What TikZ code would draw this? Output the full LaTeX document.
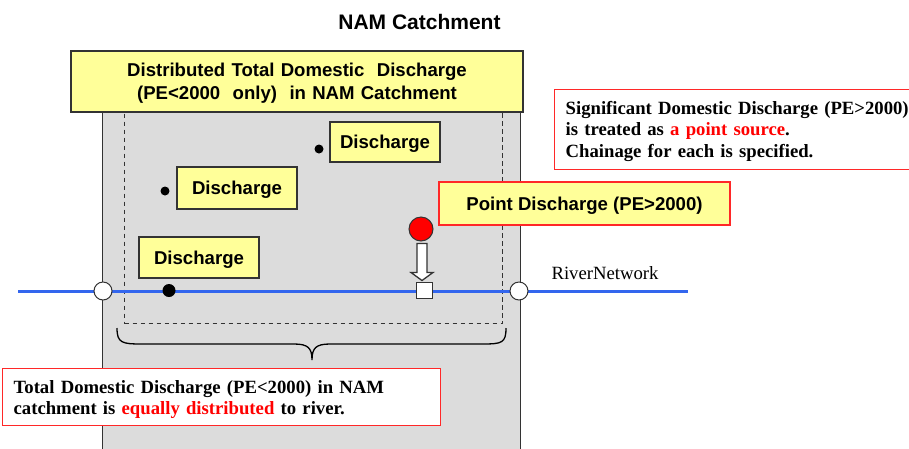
\documentclass[tikz,border=0pt]{standalone}
\usepackage{fontspec}
\setmainfont{Liberation Serif}
\newfontfamily\arialfont{Liberation Sans}
\usetikzlibrary{calc}
\definecolor{catgray}{HTML}{DCDCDC}
\definecolor{noteyellow}{HTML}{FFFF99}
\definecolor{riverblue}{HTML}{3366EE}
\definecolor{framered}{HTML}{FF2828}
\definecolor{edgegray}{HTML}{333333}
\begin{document}
\begin{tikzpicture}[x=1pt,y=-1pt,
  catchment/.style={fill=catgray,draw=edgegray,line width=1.4pt,inner sep=0pt},
  zone/.style={draw=edgegray,dashed,dash pattern=on 4.7pt off 3.3pt,line width=1.2pt,inner sep=0pt},
  yellowbox/.style={fill=noteyellow,draw=edgegray,line width=1.3pt,inner sep=0pt,
    font=\arialfont\bfseries\fontsize{18.6}{23}\selectfont,align=center},
  labelbox/.style={yellowbox,text height=13.3pt,text depth=0pt},
  redyellow/.style={labelbox,draw=framered},
  notebox/.style={fill=white,draw=framered,line width=1.3pt,inner ysep=0pt,
    font=\bfseries\fontsize{18.7}{21.5}\selectfont,align=left},
  node/.style={circle,fill=white,draw=edgegray,line width=1pt,minimum size=18pt,inner sep=0pt},
  dot/.style={circle,fill=black,inner sep=0pt},
  river/.style={draw=riverblue,line width=3pt},
  bracepath/.style={draw=black,line width=1.3pt},
  hollow/.style={fill=white,draw=edgegray,line width=1.3pt,line join=miter}]
\useasboundingbox (0,0) rectangle (909,448);

% catchment area and the zone of distributed small discharges
\node[catchment,minimum width=418pt,minimum height=370pt,anchor=north west] (catch) at (102,95) {};
\node[zone,minimum width=378pt,minimum height=223pt,anchor=north west] (zone) at (124,100) {};

% river through the catchment
\coordinate (rs) at (18,291);
\coordinate (re) at (688,291);
\draw[river] (rs) -- (re);
\node[node] (inlet) at (103,291) {};
\node[node] (outlet) at (519,291) {};
\node[anchor=base west,font=\fontsize{18.7}{22}\selectfont] (rivlabel) at (548,279) {RiverNetwork};

% header box
\node[yellowbox,minimum width=452pt,minimum height=61pt,text width=440pt,
  text height=13pt,text depth=23pt] (dist) at (297,81.5)
  {Distributed Total Domestic\ \ Discharge\\(PE<2000\ \ only)\ \ in NAM Catchment};

\node[anchor=base,font=\arialfont\bfseries\fontsize{21}{24}\selectfont] (title) at (419.5,29) {NAM Catchment};

% small discharges
\node[labelbox,minimum width=110pt,minimum height=40pt] (dA) at (385,142) {Discharge};
\node[dot,minimum size=9pt] (pA) at (319,149) {};
\node[labelbox,minimum width=120pt,minimum height=42pt] (dB) at (237,188) {Discharge};
\node[dot,minimum size=9pt] (pB) at (165,191) {};
\node[labelbox,minimum width=120pt,minimum height=41pt] (dC) at (199,257.5) {Discharge};
\node[dot,minimum size=13pt] (pC) at (169,290.5) {};

% point source
\node[circle,fill=red,draw=edgegray,line width=1pt,minimum size=24pt,inner sep=0pt] (src) at (421,229) {};
\node[rectangle,fill=white,draw=edgegray,line width=1pt,minimum size=16pt,inner sep=0pt] (pt) at (424.5,290) {};
\draw[hollow] ($(src.south)+(-4,2)$) -- ($(src.south)+(6,2)$) -- ($(src.south)+(6,31)$)
  -- ($(src.south)+(12,31)$) -- ($(pt.north)+(-2.5,-1)$) -- ($(src.south)+(-10,31)$)
  -- ($(src.south)+(-4,31)$) -- cycle;
\node[redyellow,minimum width=291pt,minimum height=43pt] (pdis) at (584.5,203.5) {Point Discharge (PE>2000)};

% explanatory notes
\node[notebox,anchor=north west,text width=370pt,inner xsep=11pt,minimum height=80pt,
  text height=12pt,text depth=43pt] (noteR) at (554,89)
  {Significant Domestic Discharge (PE>2000)\\is treated as \textcolor{red}{a point source}.\\Chainage for each is specified.};
\node[notebox,anchor=north west,text width=416pt,inner xsep=11pt,minimum height=57pt,
  text height=13pt,text depth=21pt,
  font=\bfseries\fontsize{18.7}{21}\selectfont] (noteL) at (2,368)
  {Total Domestic Discharge (PE<2000) in NAM\\catchment is \textcolor{red}{equally distributed} to river.};

% brace under the zone
\coordinate (bl) at (117,328);
\coordinate (br) at (506,328);
\coordinate (bt) at (312,360);
\draw[bracepath] (bl) .. controls (117,343) and (122,344) .. (142,344) -- (294,344)
  .. controls (308,344) and (312,348) .. (bt) .. controls (312,348) and (316,344) .. (330,344)
  -- (482,344) .. controls (502,344) and (506,343) .. (br);
\end{tikzpicture}
\end{document}
